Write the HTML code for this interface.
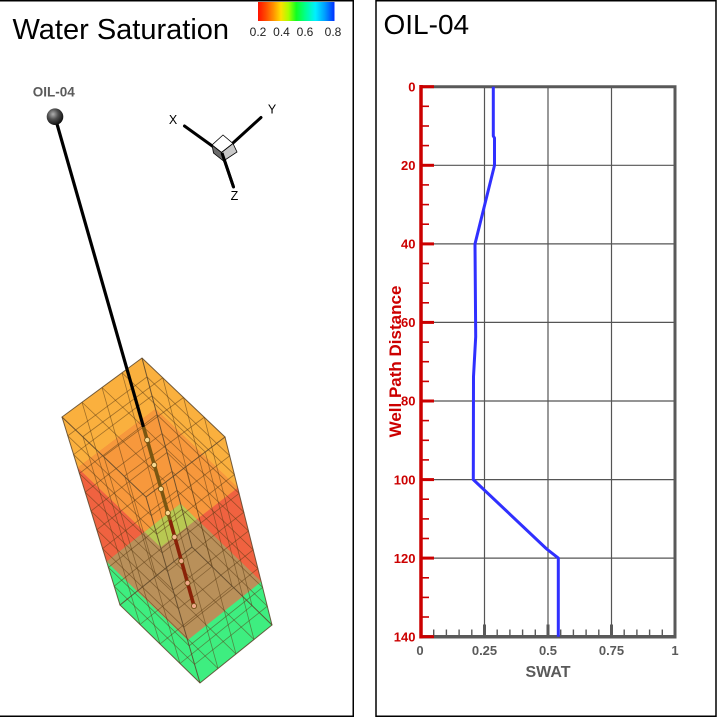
<!DOCTYPE html>
<html>
<head>
<meta charset="utf-8">
<style>
  html, body { margin:0; padding:0; background:#fff; }
  svg { display:block; }
  text { font-family: "Liberation Sans", Arial, sans-serif; }
</style>
</head>
<body>
<svg width="717" height="717" viewBox="0 0 717 717" xmlns="http://www.w3.org/2000/svg">
  <defs>
    <linearGradient id="cbar" x1="0" y1="0" x2="1" y2="0">
      <stop offset="0" stop-color="#ff1000"/>
      <stop offset="0.1" stop-color="#ff4a00"/>
      <stop offset="0.2" stop-color="#ff9000"/>
      <stop offset="0.3" stop-color="#ffe000"/>
      <stop offset="0.4" stop-color="#a8ff00"/>
      <stop offset="0.5" stop-color="#10ff20"/>
      <stop offset="0.62" stop-color="#00ff90"/>
      <stop offset="0.75" stop-color="#00f0ff"/>
      <stop offset="0.87" stop-color="#00a0ff"/>
      <stop offset="1" stop-color="#0030ff"/>
    </linearGradient>
    <radialGradient id="sph" cx="0.38" cy="0.35" r="0.7">
      <stop offset="0" stop-color="#b0b0b0"/>
      <stop offset="0.45" stop-color="#505050"/>
      <stop offset="1" stop-color="#080808"/>
    </radialGradient>
  </defs>

  <rect x="0" y="0" width="717" height="717" fill="#fff"/>

  <!-- ========== LEFT PANEL ========== -->
  <rect x="-1" y="0.75" width="354.25" height="715.5" fill="none" stroke="#000" stroke-width="1.5"/>
  <text x="12.5" y="39" font-size="29" fill="#000">Water Saturation</text>

  <!-- color bar -->
  <rect x="258" y="2" width="76.5" height="19" fill="url(#cbar)"/>
  <g font-size="12" fill="#222">
    <text x="258" y="36" text-anchor="middle">0.2</text>
    <text x="281.5" y="36" text-anchor="middle">0.4</text>
    <text x="305" y="36" text-anchor="middle">0.6</text>
    <text x="333" y="36" text-anchor="middle">0.8</text>
  </g>

  <!-- axis triad -->
  <g stroke="#000" stroke-width="3" stroke-linecap="round">
    <line x1="222" y1="153" x2="184.5" y2="126"/>
    <line x1="222" y1="153" x2="261" y2="117.5"/>
    <line x1="222" y1="153" x2="233.5" y2="187"/>
  </g>
  <polygon points="223,135 212,145 221.5,152.5 233,143.5" fill="#fff" stroke="#000" stroke-width="0.8"/>
  <polygon points="212,145 221.5,152.5 223.5,161 213.5,153" fill="#6a6a6a" stroke="#000" stroke-width="0.8"/>
  <polygon points="221.5,152.5 233,143.5 237,152 223.5,161" fill="#c8c8c8" stroke="#000" stroke-width="0.8"/>
  <line x1="222" y1="153" x2="233.5" y2="187" stroke="#000" stroke-width="3"/>
  <g font-size="12.5" fill="#000" text-anchor="middle">
    <text x="173" y="124">X</text>
    <text x="272" y="113.5">Y</text>
    <text x="234.5" y="200">Z</text>
  </g>

  <!-- well label -->
  <text x="53.8" y="96.5" font-size="13.5" font-weight="bold" fill="#5a5a5a" text-anchor="middle">OIL-04</text>

  <!-- ===== 3D block ===== -->
  <polygon points="142,358 225,437 237.7,487.8 160.6,547.2 77.7,467.8 62,417" fill="#fab03e"/>
  <polygon points="155.5,409 237.7,487.8 261.2,581.8 187.6,640.2 106.7,561.8 77.7,467.8" fill="#f06240"/>
  <polygon points="180.5,503.5 261.2,581.8 272,625 200,683 120,605 106.7,561.8" fill="#3eee80"/>
  <polygon points="155.5,409 237.7,487.8 160.6,547.2 77.7,467.8" fill="#f7983c"/>
  <polygon points="180.5,503.5 261.2,581.8 187.6,640.2 106.7,561.8" fill="#b9905a"/>
  <polygon points="180.5,503.5 196.8,519.3 160.6,547.2 144.6,531.9" fill="#b8c852"/>

  <!-- grid lines -->
  <g stroke="#5a3a14" stroke-opacity="0.55" stroke-width="0.8" fill="none">
    <!-- layer rings -->
    <polygon points="147,376.9 67.8,435.8 151.4,515.6 229.7,455.8"/>
    <polygon points="152,395.8 73.6,454.6 156.8,534.2 234.4,474.6"/>
    <polygon points="157,414.7 79.4,473.4 162.2,552.8 239.1,493.4"/>
    <polygon points="162,433.6 85.2,492.2 167.6,571.4 243.8,512.2"/>
    <polygon points="167,452.5 91,511 173,590 248.5,531"/>
    <polygon points="172,471.4 96.8,529.8 178.4,608.6 253.2,549.8"/>
    <polygon points="177,490.3 102.6,548.6 183.8,627.2 257.9,568.6"/>
    <polygon points="182,509.2 108.4,567.4 189.2,645.8 262.6,587.4"/>
    <polygon points="187,528.1 114.2,586.2 194.6,664.4 267.3,606.2"/>
    <!-- vertical column lines on side faces -->
    <line x1="83" y1="437" x2="140" y2="624.5"/>
    <line x1="104" y1="457" x2="160" y2="644"/>
    <line x1="125" y1="477" x2="180" y2="663.5"/>
    <line x1="165.75" y1="482" x2="218" y2="668.5"/>
    <line x1="185.5" y1="467" x2="236" y2="654"/>
    <line x1="205.25" y1="452" x2="254" y2="639.5"/>
    <line x1="122" y1="372.75" x2="174" y2="561.5"/>
    <line x1="102" y1="387.5" x2="156" y2="576"/>
    <line x1="82" y1="402.25" x2="138" y2="590.5"/>
    <line x1="162.75" y1="377.75" x2="212" y2="566.5"/>
    <line x1="183.5" y1="397.5" x2="232" y2="586"/>
    <line x1="204.25" y1="417.25" x2="252" y2="605.5"/>
    <!-- top face grid -->
    <line x1="122" y1="372.75" x2="205" y2="451.75"/>
    <line x1="102" y1="387.5" x2="185" y2="466.5"/>
    <line x1="82" y1="402.25" x2="165" y2="481.25"/>
    <line x1="162.75" y1="377.75" x2="82.75" y2="436.75"/>
    <line x1="183.5" y1="397.5" x2="103.5" y2="456.5"/>
    <line x1="204.25" y1="417.25" x2="124.25" y2="476.25"/>
    <!-- bottom face grid -->
    <line x1="174" y1="561.5" x2="254" y2="639.5"/>
    <line x1="156" y1="576" x2="236" y2="654"/>
    <line x1="138" y1="590.5" x2="218" y2="668.5"/>
    <line x1="212" y1="566.5" x2="140" y2="624.5"/>
    <line x1="232" y1="586" x2="160" y2="644"/>
    <line x1="252" y1="605.5" x2="180" y2="663.5"/>
  </g>

  <!-- box edges -->
  <g stroke="#5a4428" stroke-width="1" fill="none" stroke-opacity="0.85">
    <polygon points="142,358 62,417 146,497 225,437"/>
    <polygon points="192,547 120,605 200,683 272,625"/>
    <line x1="142" y1="358" x2="192" y2="547"/>
    <line x1="62" y1="417" x2="120" y2="605"/>
    <line x1="146" y1="497" x2="200" y2="683"/>
    <line x1="225" y1="437" x2="272" y2="625"/>
  </g>

  <!-- well path -->
  <line x1="55" y1="117" x2="143.5" y2="427" stroke="#000" stroke-width="3.2"/>
  <line x1="143.5" y1="427" x2="170" y2="520" stroke="#7a5612" stroke-width="3.6"/>
  <line x1="170" y1="520" x2="194" y2="606" stroke="#8a2208" stroke-width="3.6"/>
  <g stroke="#6b4a10" stroke-width="0.8">
    <circle cx="147.2" cy="440" r="2.6" fill="#f8d890"/>
    <circle cx="154.2" cy="465" r="2.6" fill="#f8d890"/>
    <circle cx="161" cy="489" r="2.6" fill="#f8d890"/>
    <circle cx="167.8" cy="513" r="2.6" fill="#f8d890"/>
    <circle cx="174.5" cy="537" r="2.6" fill="#f4b890"/>
    <circle cx="181.3" cy="561" r="2.6" fill="#f0a888"/>
    <circle cx="187.5" cy="583" r="2.6" fill="#f0a888"/>
    <circle cx="194" cy="606" r="2.6" fill="#f0a888"/>
  </g>
  <circle cx="55" cy="116.7" r="8.3" fill="url(#sph)"/>

  <!-- ========== RIGHT PANEL ========== -->
  <rect x="376" y="0.75" width="340" height="715.5" fill="none" stroke="#000" stroke-width="1.5"/>
  <text x="383.5" y="34" font-size="28" fill="#000">OIL-04</text>

  <!-- grid -->
  <g stroke="#555" stroke-width="1.2">
    <line x1="484.5" y1="86.7" x2="484.5" y2="636.7"/>
    <line x1="548" y1="86.7" x2="548" y2="636.7"/>
    <line x1="611.5" y1="86.7" x2="611.5" y2="636.7"/>
    <line x1="421" y1="165.3" x2="675" y2="165.3"/>
    <line x1="421" y1="243.9" x2="675" y2="243.9"/>
    <line x1="421" y1="322.4" x2="675" y2="322.4"/>
    <line x1="421" y1="401" x2="675" y2="401"/>
    <line x1="421" y1="479.6" x2="675" y2="479.6"/>
    <line x1="421" y1="558.1" x2="675" y2="558.1"/>
  </g>
  <!-- frame -->
  <g stroke="#595959" stroke-width="3" fill="none">
    <line x1="421" y1="86.7" x2="676.5" y2="86.7"/>
    <line x1="675" y1="86.7" x2="675" y2="638"/>
    <line x1="421" y1="636.7" x2="676.5" y2="636.7" stroke-width="3.5"/>
  </g>
  <!-- bottom ticks -->
  <g stroke="#595959" stroke-width="1.4">
    <line x1="433.7" y1="636.7" x2="433.7" y2="629.5"/>
    <line x1="446.4" y1="636.7" x2="446.4" y2="629.5"/>
    <line x1="459.1" y1="636.7" x2="459.1" y2="629.5"/>
    <line x1="471.8" y1="636.7" x2="471.8" y2="629.5"/>
    <line x1="497.2" y1="636.7" x2="497.2" y2="629.5"/>
    <line x1="509.9" y1="636.7" x2="509.9" y2="629.5"/>
    <line x1="522.6" y1="636.7" x2="522.6" y2="629.5"/>
    <line x1="535.3" y1="636.7" x2="535.3" y2="629.5"/>
    <line x1="560.7" y1="636.7" x2="560.7" y2="629.5"/>
    <line x1="573.4" y1="636.7" x2="573.4" y2="629.5"/>
    <line x1="586.1" y1="636.7" x2="586.1" y2="629.5"/>
    <line x1="598.8" y1="636.7" x2="598.8" y2="629.5"/>
    <line x1="624.2" y1="636.7" x2="624.2" y2="629.5"/>
    <line x1="636.9" y1="636.7" x2="636.9" y2="629.5"/>
    <line x1="649.6" y1="636.7" x2="649.6" y2="629.5"/>
    <line x1="662.3" y1="636.7" x2="662.3" y2="629.5"/>
  </g>
  <g stroke="#595959" stroke-width="3">
    <line x1="484.5" y1="636.7" x2="484.5" y2="624.5"/>
    <line x1="548" y1="636.7" x2="548" y2="624.5"/>
    <line x1="611.5" y1="636.7" x2="611.5" y2="624.5"/>
  </g>
  <!-- x labels -->
  <g font-size="13" font-weight="bold" fill="#5a5a5a" text-anchor="middle">
    <text x="420" y="655">0</text>
    <text x="484.5" y="655">0.25</text>
    <text x="548" y="655">0.5</text>
    <text x="611.5" y="655">0.75</text>
    <text x="675" y="655">1</text>
  </g>
  <text x="548" y="677" font-size="16" font-weight="bold" fill="#5a5a5a" text-anchor="middle">SWAT</text>

  <!-- red axis -->
  <line x1="421" y1="85" x2="421" y2="638.5" stroke="#cc0000" stroke-width="3.5"/>
  <g stroke="#cc0000" stroke-width="3">
    <line x1="421" y1="86.7" x2="434" y2="86.7"/>
    <line x1="421" y1="165.3" x2="434" y2="165.3"/>
    <line x1="421" y1="243.9" x2="434" y2="243.9"/>
    <line x1="421" y1="322.4" x2="434" y2="322.4"/>
    <line x1="421" y1="401" x2="434" y2="401"/>
    <line x1="421" y1="479.6" x2="434" y2="479.6"/>
    <line x1="421" y1="558.1" x2="434" y2="558.1"/>
    <line x1="421" y1="636.7" x2="434" y2="636.7"/>
  </g>
  <g stroke="#cc0000" stroke-width="1.6">
    <line x1="421" y1="106.3" x2="429" y2="106.3"/>
    <line x1="421" y1="126" x2="429" y2="126"/>
    <line x1="421" y1="145.6" x2="429" y2="145.6"/>
    <line x1="421" y1="184.9" x2="429" y2="184.9"/>
    <line x1="421" y1="204.6" x2="429" y2="204.6"/>
    <line x1="421" y1="224.2" x2="429" y2="224.2"/>
    <line x1="421" y1="263.5" x2="429" y2="263.5"/>
    <line x1="421" y1="283.1" x2="429" y2="283.1"/>
    <line x1="421" y1="302.8" x2="429" y2="302.8"/>
    <line x1="421" y1="342.1" x2="429" y2="342.1"/>
    <line x1="421" y1="361.7" x2="429" y2="361.7"/>
    <line x1="421" y1="381.4" x2="429" y2="381.4"/>
    <line x1="421" y1="420.6" x2="429" y2="420.6"/>
    <line x1="421" y1="440.3" x2="429" y2="440.3"/>
    <line x1="421" y1="459.9" x2="429" y2="459.9"/>
    <line x1="421" y1="499.2" x2="429" y2="499.2"/>
    <line x1="421" y1="518.9" x2="429" y2="518.9"/>
    <line x1="421" y1="538.5" x2="429" y2="538.5"/>
    <line x1="421" y1="577.8" x2="429" y2="577.8"/>
    <line x1="421" y1="597.4" x2="429" y2="597.4"/>
    <line x1="421" y1="617" x2="429" y2="617"/>
  </g>
  <g font-size="13" font-weight="bold" fill="#cc0000" text-anchor="end">
    <text x="415.5" y="91.5">0</text>
    <text x="415.5" y="170">20</text>
    <text x="415.5" y="248.6">40</text>
    <text x="415.5" y="327.1">60</text>
    <text x="415.5" y="405.7">80</text>
    <text x="415.5" y="484.3">100</text>
    <text x="415.5" y="562.8">120</text>
    <text x="415.5" y="641.4">140</text>
  </g>
  <text transform="translate(401,361.5) rotate(-90)" font-size="17" font-weight="bold" fill="#cc0000" text-anchor="middle">Well Path Distance</text>

  <!-- SWAT curve -->
  <polyline points="493.3,86.7 493.3,136 494.5,138 494.5,165.3 475,243.9 475.7,336.7 473.5,376.7 473.3,479.6 546.7,549 558.3,558.1 558.3,636.7"
            fill="none" stroke="#3030ff" stroke-width="3" stroke-linejoin="round"/>
</svg>
</body>
</html>
